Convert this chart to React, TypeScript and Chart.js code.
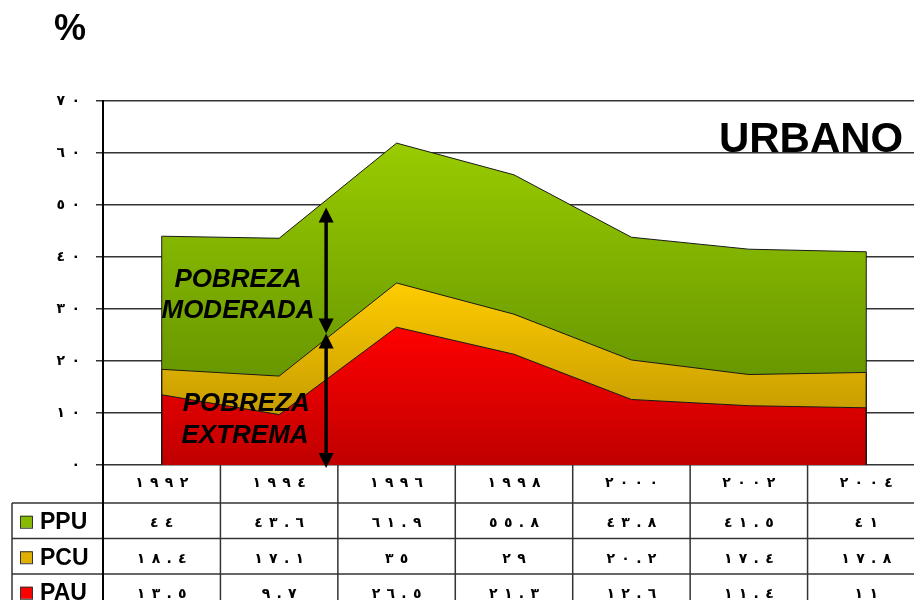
import React, { useEffect, useRef } from 'react';
import { Chart, registerables } from 'chart.js';

Chart.register(...registerables);

// ---- data ----
const years = ['1992', '1994', '1996', '1998', '2000', '2002', '2004'];
const ppu = [44, 43.6, 61.9, 55.8, 43.8, 41.5, 41];
const pcu = [18.4, 17.1, 35, 29, 20.2, 17.4, 17.8];
const pau = [13.5, 9.7, 26.5, 21.3, 12.6, 11.4, 11];
const seriesNames = ['PPU', 'PCU', 'PAU'];
const yMin = 0;
const yMax = 70;
const yStep = 10;
const unitLabel = '%';
const titleLabel = 'URBANO';
const moderateLabel = ['POBREZA', 'MODERADA'];
const extremeLabel = ['POBREZA', 'EXTREMA'];

const W = 940;
const H = 640;
const FONT = "'Liberation Sans', Arial, 'DejaVu Sans', sans-serif";
const AR_FONT = "'DejaVu Sans', sans-serif";
// left-to-right mark + narrow spaces, to spread the Arabic-Indic digits as in the source
const GAP = '\u200E\u2005\u2009';

const AR_DIGITS = '٠١٢٣٤٥٦٧٨٩';
const toAr = (v: number | string) =>
  String(v)
    .replace(/[0-9]/g, (d) => AR_DIGITS[+d])
    .split('')
    .join(GAP);

const gradFill = (top: string, bottom: string) => (c: any) => {
  const chart = c.chart;
  const { chartArea, scales } = chart;
  if (!chartArea || !scales.y) return top;
  const data = c.dataset.data as number[];
  const y0 = scales.y.getPixelForValue(Math.max(...data));
  const y1 = scales.y.getPixelForValue(0);
  const g = chart.ctx.createLinearGradient(0, y0, 0, y1);
  g.addColorStop(0, top);
  g.addColorStop(1, bottom);
  return g;
};

const keyColors = ['#88bb00', '#e0b000', '#ff0000'];

function drawArrowHead(ctx: CanvasRenderingContext2D, x: number, tipY: number, dir: number) {
  const len = 15;
  const hw = 7.5;
  ctx.beginPath();
  ctx.moveTo(x, tipY);
  ctx.lineTo(x - hw, tipY + dir * len);
  ctx.lineTo(x + hw, tipY + dir * len);
  ctx.closePath();
  ctx.fill();
}

function drawDoubleArrow(ctx: CanvasRenderingContext2D, x: number, yTop: number, yBot: number) {
  ctx.beginPath();
  ctx.moveTo(x, yTop + 8);
  ctx.lineTo(x, yBot - 8);
  ctx.stroke();
  drawArrowHead(ctx, x, yTop, 1);
  drawArrowHead(ctx, x, yBot, -1);
}

const overlayPlugin = {
  id: 'overlay',
  afterDatasetsDraw(chart: any) {
    const ctx = chart.ctx as CanvasRenderingContext2D;
    const ys = chart.scales.y;
    ctx.save();
    ctx.strokeStyle = '#1a1a1a';
    ctx.lineWidth = 1;
    chart.data.datasets.forEach((_d: any, i: number) => {
      const meta = chart.getDatasetMeta(i);
      const pts = meta.data;
      if (!pts.length) return;
      const base = ys.getPixelForValue(0);
      [pts[0], pts[pts.length - 1]].forEach((p: any) => {
        ctx.beginPath();
        ctx.moveTo(p.x, p.y);
        ctx.lineTo(p.x, base);
        ctx.stroke();
      });
    });
    ctx.restore();
  },
  afterDraw(chart: any) {
    const ctx = chart.ctx as CanvasRenderingContext2D;
    const xs = chart.scales.x;
    const ys = chart.scales.y;
    const area = chart.chartArea;
    ctx.save();

    // ---- data table ----
    const n = years.length;
    const colW = (xs.right - xs.left) / n;
    const tableLeft = 12;
    const headerBottom = area.bottom + 38;
    const rowH = 35.5;
    const rowTops = [headerBottom, headerBottom + rowH, headerBottom + 2 * rowH, headerBottom + 3 * rowH];
    ctx.strokeStyle = '#333';
    ctx.lineWidth = 1.5;
    rowTops.forEach((y) => {
      ctx.beginPath();
      ctx.moveTo(tableLeft, y);
      ctx.lineTo(xs.right, y);
      ctx.stroke();
    });
    ctx.beginPath();
    ctx.moveTo(tableLeft, headerBottom);
    ctx.lineTo(tableLeft, rowTops[3]);
    ctx.stroke();
    ctx.lineWidth = 2;
    ctx.strokeStyle = '#000';
    ctx.beginPath();
    ctx.moveTo(xs.left, area.bottom);
    ctx.lineTo(xs.left, rowTops[3]);
    ctx.stroke();
    ctx.lineWidth = 1.5;
    ctx.strokeStyle = '#333';
    for (let i = 1; i <= n; i++) {
      const x = xs.left + i * colW;
      ctx.beginPath();
      ctx.moveTo(x, area.bottom);
      ctx.lineTo(x, rowTops[3]);
      ctx.stroke();
    }

    const rows = [ppu, pcu, pau];
    rows.forEach((vals, r) => {
      const cy = rowTops[r] + rowH / 2;
      // legend key
      ctx.fillStyle = keyColors[r];
      ctx.fillRect(20, cy - 5, 12, 12);
      ctx.strokeStyle = '#333';
      ctx.lineWidth = 1;
      ctx.strokeRect(20.5, cy - 4.5, 12, 12);
      ctx.fillStyle = '#000';
      ctx.font = `bold 23px ${FONT}`;
      ctx.textAlign = 'left';
      ctx.textBaseline = 'middle';
      ctx.fillText(seriesNames[r], 40, cy + 2);
      ctx.font = `bold 14px ${AR_FONT}`;
      ctx.textAlign = 'center';
      vals.forEach((v, i) => {
        ctx.fillText(toAr(v), xs.getPixelForValue(i), cy + 3);
      });
    });

    // ---- annotations ----
    ctx.fillStyle = '#000';
    ctx.strokeStyle = '#000';
    ctx.lineWidth = 3.5;
    const ax = xs.getPixelForValue(1.4);
    drawDoubleArrow(ctx, ax, ys.getPixelForValue(49.5), ys.getPixelForValue(25.3));
    drawDoubleArrow(ctx, ax, ys.getPixelForValue(25.3), ys.getPixelForValue(-0.6));

    ctx.font = `italic bold 26px ${FONT}`;
    ctx.textAlign = 'center';
    ctx.textBaseline = 'middle';
    ctx.fillText(moderateLabel[0], xs.getPixelForValue(0.65), ys.getPixelForValue(35.6));
    ctx.fillText(moderateLabel[1], xs.getPixelForValue(0.65), ys.getPixelForValue(29.6));
    ctx.fillText(extremeLabel[0], xs.getPixelForValue(0.72), ys.getPixelForValue(11.7));
    ctx.fillText(extremeLabel[1], xs.getPixelForValue(0.71), ys.getPixelForValue(5.6));

    ctx.font = `bold 42px ${FONT}`;
    ctx.fillText(titleLabel, xs.getPixelForValue(5.53), ys.getPixelForValue(62.4));

    ctx.font = `bold 36px ${FONT}`;
    ctx.fillText(unitLabel, 70, 30);

    ctx.restore();
  },
};

export default function App() {
  const ref = useRef<HTMLCanvasElement>(null);
  useEffect(() => {
    if (!ref.current) return;
    const chart = new Chart(ref.current, {
      type: 'line',
      data: {
        labels: years,
        datasets: [
          {
            label: seriesNames[0],
            data: ppu,
            fill: 'origin',
            backgroundColor: gradFill('#99CC00', '#558300'),
            borderColor: '#1a1a1a',
            borderWidth: 1,
            pointRadius: 0,
            tension: 0,
            order: 3,
          },
          {
            label: seriesNames[1],
            data: pcu,
            fill: 'origin',
            backgroundColor: gradFill('#FFCC00', '#B08A00'),
            borderColor: '#1a1a1a',
            borderWidth: 1,
            pointRadius: 0,
            tension: 0,
            order: 2,
          },
          {
            label: seriesNames[2],
            data: pau,
            fill: 'origin',
            backgroundColor: gradFill('#FF0000', '#C00000'),
            borderColor: '#1a1a1a',
            borderWidth: 1,
            pointRadius: 0,
            tension: 0,
            order: 1,
          },
        ],
      },
      options: {
        responsive: false,
        animation: false,
        devicePixelRatio: 1,
        layout: { padding: { left: 0, top: 101, right: W - 925, bottom: 0 } },
        plugins: {
          legend: { display: false },
          tooltip: { enabled: false },
        },
        scales: {
          x: {
            type: 'category',
            offset: true,
            grid: { display: false, drawTicks: false },
            border: { display: false },
            ticks: {
              autoSkip: false,
              maxRotation: 0,
              padding: 10,
              color: '#000',
              font: { family: AR_FONT, size: 14, weight: 'bold' },
              callback: (_v: any, i: number) => toAr(years[i]),
            },
            afterFit: (s: any) => {
              s.height = H - 465;
            },
          },
          y: {
            min: yMin,
            max: yMax,
            ticks: {
              stepSize: yStep,
              padding: 16,
              color: '#000',
              font: { family: AR_FONT, size: 14, weight: 'bold' },
              callback: (v: any) => toAr(v),
            },
            grid: { color: '#333', lineWidth: 1.5, tickLength: 7 },
            border: { display: true, color: '#000', width: 2 },
            afterFit: (s: any) => {
              s.width = 103;
            },
          },
        },
      },
      plugins: [overlayPlugin],
    } as any);
    return () => chart.destroy();
  }, []);
  return (
    <div
      style={{
        position: 'fixed',
        left: 0,
        top: 0,
        width: 914,
        height: 600,
        overflow: 'hidden',
        background: '#fff',
      }}
    >
      <canvas ref={ref} width={W} height={H} style={{ width: W, height: H, display: 'block' }} />
    </div>
  );
}
